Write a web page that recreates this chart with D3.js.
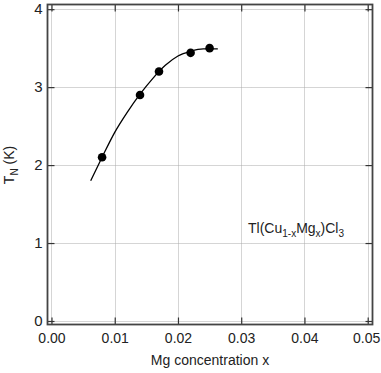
<!DOCTYPE html>
<html>
<head>
	<title></title>
	<style>
		body { margin: 0; background: #fff; }
		text { font-family: "Liberation Sans", Arial, sans-serif; fill: #222; }
	</style>
</head>
<body>
	<svg id="container" height="373" width="381"></svg>
</body>
<script src="https://d3js.org/d3.v7.min.js"></script>
<script>
	// measured points
	let conc = [0.008, 0.014, 0.017, 0.022, 0.025]
	let tn = [2.10, 2.90, 3.20, 3.44, 3.50]

	// fitted guide line
	let fitX = [0.0062, 0.008, 0.010, 0.012, 0.014, 0.016, 0.018, 0.020, 0.022, 0.024, 0.0263]
	let fitY = [1.80, 2.10, 2.42, 2.68, 2.91, 3.11, 3.28, 3.40, 3.46, 3.49, 3.49]

	let xTicks = [0, 0.01, 0.02, 0.03, 0.04, 0.05]
	let yTicks = [0, 1, 2, 3, 4]

	let svg = d3.select("#container")
	let pLeft = 47.5, pRight = 372.5, pTop = 4.5, pBottom = 324.5

	let x = d3.scaleLinear().domain([-0.00063, 0.05076]).range([pLeft, pRight])
	let y = d3.scaleLinear().domain([-0.045, 4.06]).range([pBottom, pTop])

	// grid
	let grid = svg.append("g")
		.attr("stroke", "#aaa")
		.attr("stroke-width", 1)
		.attr("stroke-dasharray", "1,1")
	grid.selectAll(".gx").data(xTicks).enter().append("line")
		.attr("x1", d => Math.round(x(d)) + 0.5).attr("x2", d => Math.round(x(d)) + 0.5)
		.attr("y1", pTop).attr("y2", pBottom)
	grid.selectAll(".gy").data(yTicks).enter().append("line")
		.attr("y1", d => Math.round(y(d)) + 0.5).attr("y2", d => Math.round(y(d)) + 0.5)
		.attr("x1", pLeft).attr("x2", pRight)

	// axes, ticks pointing inward on all sides
	let tk = 7
	let xAxis = svg.append("g").attr("transform", `translate(0,${pBottom})`)
		.call(d3.axisBottom(x).tickValues(xTicks).tickSizeInner(-tk).tickSizeOuter(0)
			.tickPadding(9).tickFormat(d3.format(".2f")))
		.call(g => g.select(".domain").remove())
	svg.append("g").attr("transform", `translate(0,${pTop})`)
		.call(d3.axisTop(x).tickValues(xTicks).tickSizeInner(-tk).tickSizeOuter(0).tickFormat(""))
		.call(g => g.select(".domain").remove())
	let yAxis = svg.append("g").attr("transform", `translate(${pLeft},0)`)
		.call(d3.axisLeft(y).tickValues(yTicks).tickSizeInner(-tk).tickSizeOuter(0)
			.tickPadding(5).tickFormat(d3.format("d")))
		.call(g => g.select(".domain").remove())
	svg.append("g").attr("transform", `translate(${pRight},0)`)
		.call(d3.axisRight(y).tickValues(yTicks).tickSizeInner(-tk).tickSizeOuter(0).tickFormat(""))
		.call(g => g.select(".domain").remove())

	svg.selectAll(".tick line").attr("stroke", "#333").attr("stroke-width", 1.2)
	xAxis.selectAll(".tick text").style("font-size", "14px").attr("fill", "#222")
	yAxis.selectAll(".tick text").style("font-size", "15px").attr("fill", "#222")
	// keep the last label inside the window
	xAxis.selectAll(".tick text").filter(d => d === 0.05).attr("dx", -1.5)

	svg.append("rect")
		.attr("x", pLeft).attr("y", pTop)
		.attr("width", pRight - pLeft).attr("height", pBottom - pTop)
		.attr("fill", "none").attr("stroke", "#444").attr("stroke-width", 1.8)

	// fit curve
	let line = d3.line()
		.x(d => x(d[0])).y(d => y(d[1]))
		.curve(d3.curveMonotoneX)
	svg.append("path")
		.datum(fitX.map((v, i) => [v, fitY[i]]))
		.attr("d", line)
		.attr("fill", "none")
		.attr("stroke", "#000")
		.attr("stroke-width", 1.3)

	svg.selectAll(".pt").data(conc).enter().append("circle")
		.attr("cx", d => x(d))
		.attr("cy", (d, i) => y(tn[i]))
		.attr("r", 4.3)
		.attr("fill", "#000")

	// labels
	svg.append("text")
		.attr("x", 210).attr("y", 365)
		.attr("text-anchor", "middle")
		.style("font-size", "14px")
		.text("Mg concentration x")

	let yl = svg.append("text")
		.attr("transform", "translate(14,165) rotate(-90)")
		.attr("text-anchor", "middle")
		.style("font-size", "14px")
	yl.append("tspan").text("T")
	yl.append("tspan").attr("dy", 4).style("font-size", "10px").text("N")
	yl.append("tspan").attr("dy", -4).text(" (K)")

	let ann = svg.append("text")
		.attr("x", 248).attr("y", 233)
		.style("font-size", "14px")
	ann.append("tspan").text("Tl(Cu")
	ann.append("tspan").attr("dy", 4).style("font-size", "10px").text("1-x")
	ann.append("tspan").attr("dy", -4).text("Mg")
	ann.append("tspan").attr("dy", 4).style("font-size", "10px").text("x")
	ann.append("tspan").attr("dy", -4).text(")Cl")
	ann.append("tspan").attr("dy", 4).style("font-size", "10px").text("3")
</script>
</html>
